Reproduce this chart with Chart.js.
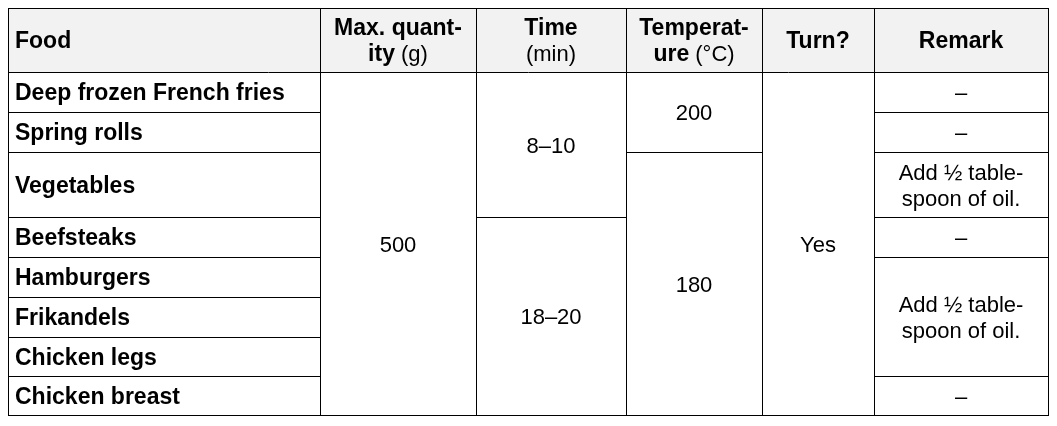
<!DOCTYPE html>
<html>
<head>
<meta charset="utf-8">
<script src="https://cdn.jsdelivr.net/npm/chart.js@4"></script>
<style>
  body { margin: 0; background: #fff; }
  #wrap { width: 1057px; height: 426px; }
</style>
</head>
<body>
<div id="wrap"><canvas id="tbl"></canvas></div>
<script>
// Table content
const foods = ["Deep frozen French fries", "Spring rolls", "Vegetables", "Beefsteaks",
  "Hamburgers", "Frikandels", "Chicken legs", "Chicken breast"];
// merged cells: [firstRow, lastRow, text lines]
const quantities = [[0, 7, ["500"]]];
const times = [[0, 2, ["8–10"]], [3, 7, ["18–20"]]];
const temperatures = [[0, 1, ["200"]], [2, 7, ["180"]]];
const turns = [[0, 7, ["Yes"]]];
const remarks = [[0, 0, ["–"]], [1, 1, ["–"]], [2, 2, ["Add ½ table-", "spoon of oil."]],
  [3, 3, ["–"]], [4, 6, ["Add ½ table-", "spoon of oil."]], [7, 7, ["–"]]];
// header: each line is a list of [text, bold]
const headers = [
  [[["Food", true]]],
  [[["Max. quant-", true]], [["ity", true], [" (g)", false]]],
  [[["Time", true]], [["(min)", false]]],
  [[["Temperat-", true]], [["ure", true], [" (°C)", false]]],
  [[["Turn?", true]]],
  [[["Remark", true]]]
];

// layout (table units = pixels from table corner)
const colEdges = [0, 312, 468, 618, 754, 866, 1040];
const rowEdges = [0, 64, 104, 144, 209, 249, 289, 329, 368, 407];
const FONT = "'Liberation Sans', Arial, sans-serif";
const BOLD = "bold 23px " + FONT, REG = "22px " + FONT;
const DY = 2;

const tablePlugin = {
  id: "table",
  afterDraw(chart) {
    const ctx = chart.ctx, xs = chart.scales.x, ys = chart.scales.y;
    const X = v => xs.getPixelForValue(v), Y = v => ys.getPixelForValue(v);
    ctx.save();
    ctx.fillStyle = "#f2f2f2";
    ctx.fillRect(X(0), Y(0), X(colEdges[6]) - X(0), Y(rowEdges[1]) - Y(0));
    ctx.strokeStyle = "#000";
    ctx.lineWidth = 1;
    const line = (x1, y1, x2, y2) => {
      ctx.beginPath();
      ctx.moveTo(Math.round(X(x1)) + 0.5, Math.round(Y(y1)) + 0.5);
      ctx.lineTo(Math.round(X(x2)) + 0.5, Math.round(Y(y2)) + 0.5);
      ctx.stroke();
    };
    const rowTop = r => rowEdges[r + 1], rowBot = r => rowEdges[r + 2];
    ctx.strokeRect(Math.round(X(0)) + 0.5, Math.round(Y(0)) + 0.5,
      Math.round(X(colEdges[6]) - X(0)), Math.round(Y(rowEdges[9]) - Y(0)));
    line(0, rowEdges[1], colEdges[6], rowEdges[1]);
    for (let c = 1; c < 6; c++) line(colEdges[c], 0, colEdges[c], rowEdges[9]);

    ctx.fillStyle = "#000";
    ctx.textBaseline = "middle";
    // header text
    headers.forEach((lines, c) => {
      const cx = c === 0 ? null : (colEdges[c] + colEdges[c + 1]) / 2;
      const n = lines.length;
      lines.forEach((parts, i) => {
        const y = Y(rowEdges[1] / 2 + (i - (n - 1) / 2) * 26) + DY;
        let w = 0;
        parts.forEach(([t, b]) => { ctx.font = b ? BOLD : REG; w += ctx.measureText(t).width; });
        let x = cx === null ? X(7) : X(cx) - w / 2;
        ctx.textAlign = "left";
        parts.forEach(([t, b]) => {
          ctx.font = b ? BOLD : REG;
          ctx.fillText(t, x, y);
          x += ctx.measureText(t).width;
        });
      });
    });
    // food column
    ctx.font = BOLD;
    ctx.textAlign = "left";
    foods.forEach((f, r) => {
      if (r > 0) line(0, rowTop(r), colEdges[1], rowTop(r));
      ctx.fillText(f, X(7), Y((rowTop(r) + rowBot(r)) / 2) + DY);
    });
    // merged columns
    ctx.font = REG;
    ctx.textAlign = "center";
    [quantities, times, temperatures, turns, remarks].forEach((cells, k) => {
      const c = k + 1;
      cells.forEach(([a, b, lines]) => {
        if (a > 0) line(colEdges[c], rowTop(a), colEdges[c + 1], rowTop(a));
        const mid = (rowTop(a) + rowBot(b)) / 2;
        lines.forEach((t, i) => {
          ctx.fillText(t, X((colEdges[c] + colEdges[c + 1]) / 2),
            Y(mid + (i - (lines.length - 1) / 2) * 26) + DY);
        });
      });
    });
    ctx.restore();
  }
};

new Chart(document.getElementById("tbl"), {
  type: "scatter",
  data: { datasets: [{ data: [] }] },
  options: {
    responsive: true,
    maintainAspectRatio: false,
    animation: false,
    layout: { padding: { left: 8, right: 9, top: 8, bottom: 11 } },
    plugins: { legend: { display: false }, tooltip: { enabled: false } },
    scales: {
      x: { display: false, min: 0, max: colEdges[6] },
      y: { display: false, min: 0, max: rowEdges[9], reverse: true }
    }
  },
  plugins: [tablePlugin]
});
</script>
</body>
</html>
